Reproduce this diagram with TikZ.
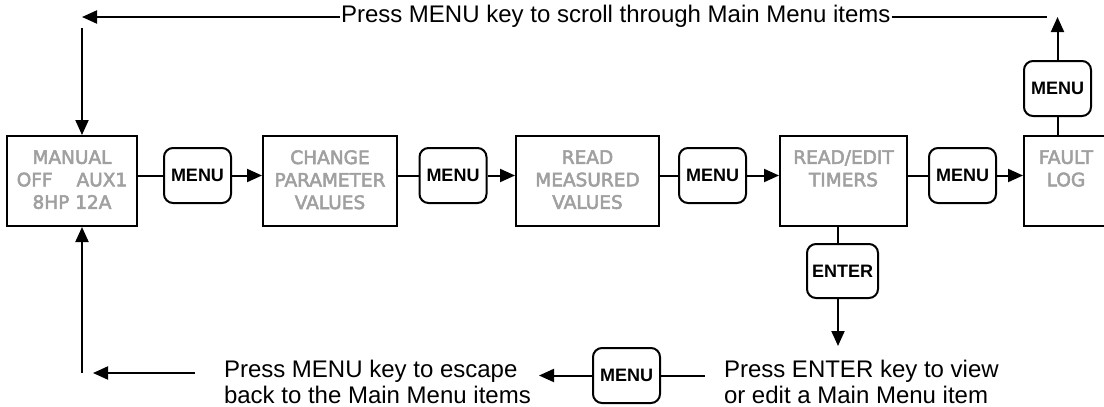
\documentclass[tikz,border=0pt]{standalone}
\usepackage{fontspec}
\setmainfont{Liberation Sans}
\newfontfamily\boxfont[FakeBold=3]{DejaVu Sans}
\usetikzlibrary{arrows.meta}
\definecolor{boxgray}{RGB}{160,160,160}
\begin{document}
\begin{tikzpicture}[x=1pt,y=-1pt,
  line width=2pt,
  arr/.style={-{Triangle[length=15pt,width=13pt]}},
  scr/.style={draw, line width=2pt, minimum width=#1, minimum height=90pt, inner sep=0pt},
  key/.style={draw, line width=2pt, rounded corners=9pt, minimum width=67pt, minimum height=55pt, inner sep=0pt, font=\fontsize{18}{20}\selectfont\bfseries},
  scrtxt/.style={text=boxgray, font=\boxfont\fontsize{18.5}{22.5}\selectfont, align=center, inner sep=0pt, anchor=north},
  note/.style={font=\fontsize{24}{26}\selectfont, align=left, inner sep=0pt, anchor=north west}
]
\useasboundingbox (0,0) rectangle (1104,407);
\clip (0,0) rectangle (1104,407);

% screen boxes
\node[scr=130pt] (b1) at (72,181) {};
\node[scr=134pt] (b2) at (330,181) {};
\node[scr=143pt] (b3) at (587.5,181) {};
\node[scr=127pt] (b4) at (843.5,181) {};
\node[scr=84pt]  (b5) at (1066,181) {};

\node[scrtxt] (t1) at ([yshift=-14.3pt]b1.north) {MANUAL\\OFF\hspace{24pt}AUX1\\8HP 12A};
\node[scrtxt] (t2) at ([yshift=-14.3pt]b2.north) {CHANGE\\PARAMETER\\VALUES};
\node[scrtxt] (t3) at ([yshift=-14.3pt]b3.north) {READ\\MEASURED\\VALUES};
\node[scrtxt] (t4) at ([yshift=-14.3pt]b4.north) {READ/EDIT\\TIMERS};
\node[scrtxt] (t5) at ([yshift=-14.3pt]b5.north) {FAULT\\LOG};

% keys
\node[key] (m1) at (197.5,175.5) {MENU};
\node[key] (m2) at (453,175.5) {MENU};
\node[key] (m3) at (712.5,175.5) {MENU};
\node[key] (m4) at (962.5,175.5) {MENU};
\node[key] (mt) at (1057.5,88.5) {MENU};
\node[key, minimum width=71pt, minimum height=54pt] (en) at (842.5,271) {ENTER};
\node[key] (m6) at (626.5,375.5) {MENU};

% main row connectors
\draw (b1.east |- m1.west) -- (m1.west);
\draw[arr] (m1.east) -- (m1.east -| b2.west);
\draw (b2.east |- m2.west) -- (m2.west);
\draw[arr] (m2.east) -- (m2.east -| b3.west);
\draw (b3.east |- m3.west) -- (m3.west);
\draw[arr] (m3.east) -- (m3.east -| b4.west);
\draw (b4.east |- m4.west) -- (m4.west);
\draw[arr] (m4.east) -- (m4.east -| b5.west);

% return path at top
\draw (mt.south) -- (mt.south |- b5.north);
\coordinate (ctopA) at (1057.5,17);
\draw[arr] (mt.north) -- (ctopA);

\node[font=\fontsize{24}{26}\selectfont, inner sep=0pt, anchor=base west] (ttop) at (340,22) {Press MENU key to scroll through Main Menu items};
\coordinate (cTL) at (82,17);
\coordinate (cTR) at (1047,17);
\draw[arr] (ttop.west |- cTL) -- (cTL);
\draw (ttop.east |- cTR) -- (cTR);

\coordinate (cL) at (82,28);
\draw[arr] (cL) -- (cL |- b1.north);

% bottom return path
\coordinate (cBL) at (82,373);
\draw[arr] (cBL) -- (cBL |- b1.south);
\coordinate (cB2) at (195,373);
\coordinate (cB3) at (93,373);
\draw[arr] (cB2) -- (cB3);

\node[note] (tesc) at (223,358.8) {Press MENU key to escape\\back to the Main Menu items};
\node[note] (tent) at (723,358.8) {Press ENTER key to view\\or edit a Main Menu item};

\draw ([xshift=-4.5pt]en.north) -- ([xshift=-4.5pt]en.north |- b4.south);
\coordinate (cEn) at (838,346);
\draw[arr] ([xshift=-4.5pt]en.south) -- (cEn);
\coordinate (cR) at (705,375.5);
\draw (cR) -- (m6.east);
\coordinate (cM) at (539,375.5);
\draw[arr] (m6.west) -- (cM);
\end{tikzpicture}
\end{document}
